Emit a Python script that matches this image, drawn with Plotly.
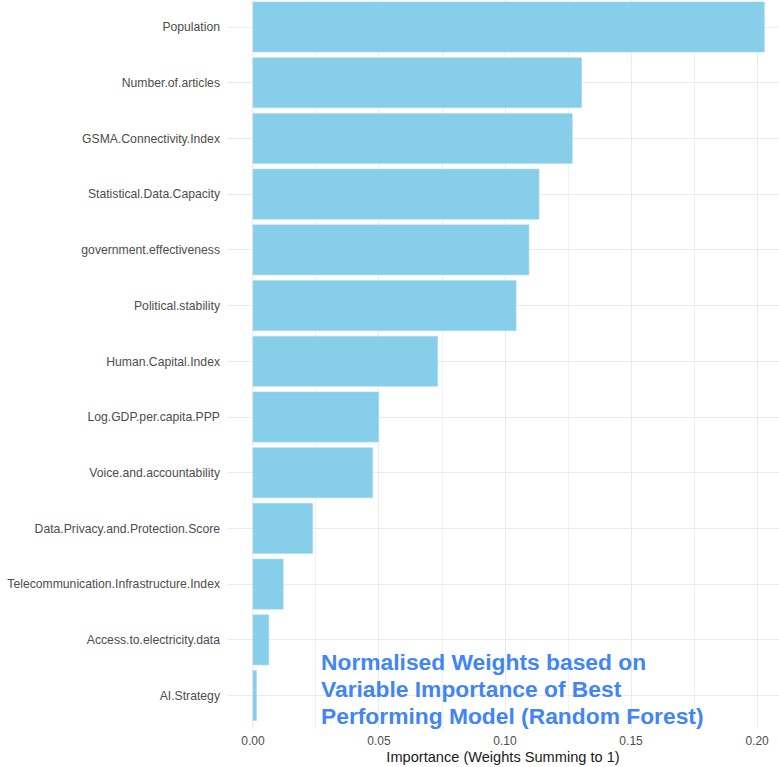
import plotly.graph_objects as go

variables = [
    "AI.Strategy",
    "Access.to.electricity.data",
    "Telecommunication.Infrastructure.Index",
    "Data.Privacy.and.Protection.Score",
    "Voice.and.accountability",
    "Log.GDP.per.capita.PPP",
    "Human.Capital.Index",
    "Political.stability",
    "government.effectiveness",
    "Statistical.Data.Capacity",
    "GSMA.Connectivity.Index",
    "Number.of.articles",
    "Population",
]
importance = [0.0014, 0.0063, 0.0120, 0.0237, 0.0475, 0.0499, 0.0733,
              0.1044, 0.1095, 0.1135, 0.1267, 0.1304, 0.2029]
x_ticks = [0.0, 0.05, 0.10, 0.15, 0.20]
x_tick_labels = ["0.00", "0.05", "0.10", "0.15", "0.20"]
note_lines = ["Normalised Weights based on", "Variable Importance of Best",
              "Performing Model (Random Forest)"]

fig = go.Figure(go.Bar(
    x=importance, y=variables, orientation="h", width=0.9,
    marker=dict(color="#87CEEB", line=dict(color="#a9dcf0", width=0.6)),
))

font_family = "Liberation Sans, Arial, sans-serif"
note_y = [0.611, 0.126, -0.359]
annotations = [
    dict(x=0.0261, y=yy, xref="x", yref="y", xanchor="left", yanchor="middle",
         text=line, showarrow=False, align="left",
         font=dict(size=22.8, color="#4285F4", family=font_family, weight="bold"))
    for line, yy in zip(note_lines, note_y)
]

fig.update_layout(
    width=779, height=767,
    margin=dict(l=227, r=0, t=0, b=38),
    plot_bgcolor="white", paper_bgcolor="white",
    showlegend=False,
    font=dict(family=font_family),
    xaxis=dict(
        range=[-0.0103, 0.2087],
        tickvals=x_ticks, ticktext=x_tick_labels,
        showgrid=True, gridcolor="#ebebeb", gridwidth=1.1,
        minor=dict(showgrid=True, dtick=0.025, tick0=0, gridcolor="#f0f0f0", gridwidth=0.6),
        zeroline=False, showline=False, ticks="", ticklabelstandoff=3,
        tickfont=dict(size=12, color="#4d4d4d"),
        title=dict(text="Importance (Weights Summing to 1)", font=dict(size=14.6, color="#1a1a1a"), standoff=4),
        automargin=False,
    ),
    yaxis=dict(
        range=[-0.6, 12.485],
        categoryorder="array", categoryarray=variables,
        showgrid=True, gridcolor="#ebebeb", gridwidth=1.1,
        zeroline=False, showline=False, ticks="", ticklabelstandoff=6,
        tickfont=dict(size=12.2, color="#4d4d4d"),
        automargin=False,
    ),
    annotations=annotations,
)

fig.write_html("out.html", config={"displayModeBar": False},
               post_script="document.body.style.margin='0';document.body.style.overflow='hidden';")
